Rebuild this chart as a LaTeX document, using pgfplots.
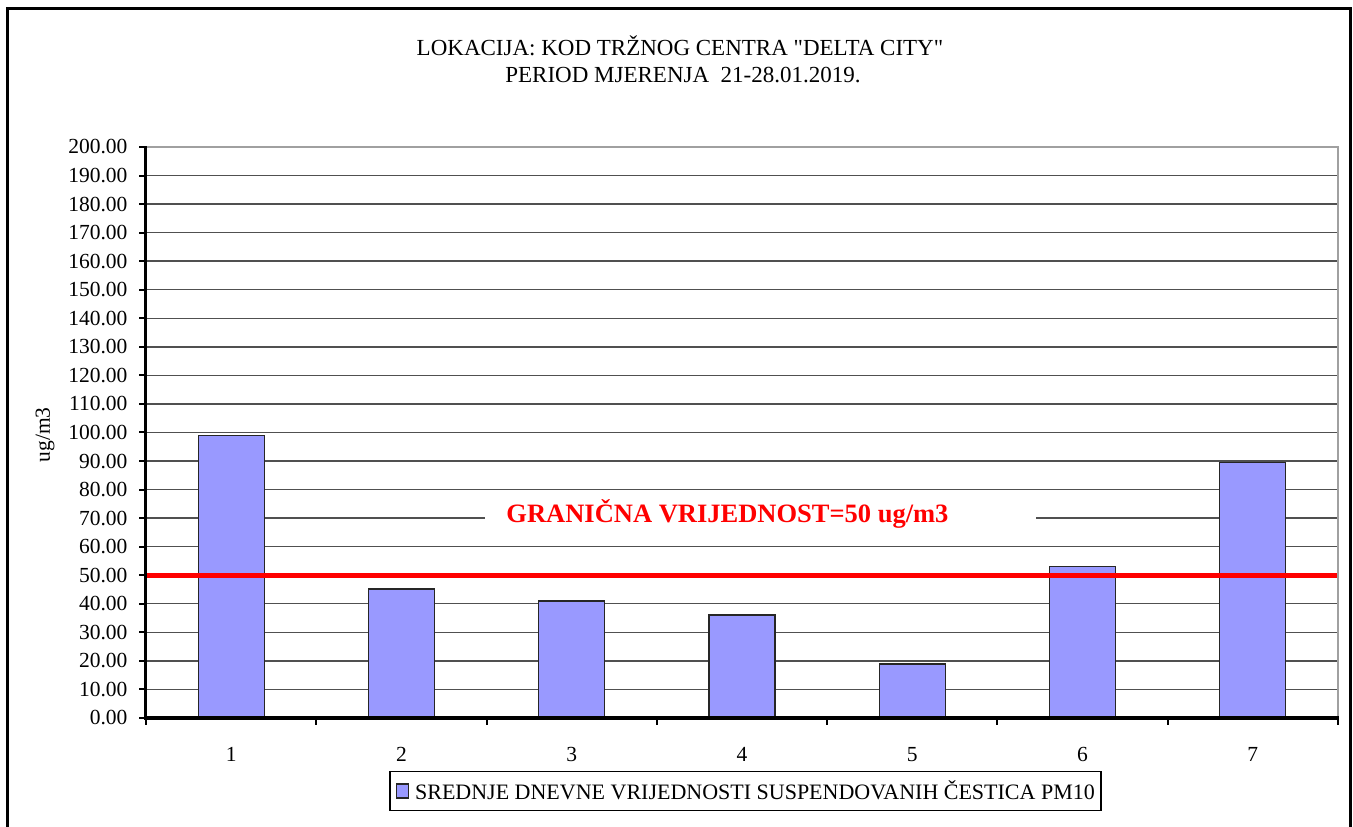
\documentclass[border=0pt]{standalone}
\usepackage{fontspec}
\setmainfont{Liberation Serif}
\newfontfamily\plainserif{Liberation Serif}
\usepackage{pgfplots}
\pgfplotsset{compat=1.18}
\definecolor{barblue}{HTML}{9999FF}
\definecolor{gridgray}{HTML}{505050}
\definecolor{bordergray}{HTML}{A0A0A0}
\begin{document}
\begin{tikzpicture}
\useasboundingbox (0pt,0pt) rectangle (1353pt,827pt);
\fill[white] (0pt,0pt) rectangle (1353pt,827pt);
\draw[line width=3pt] (7.5pt,-5pt) -- (7.5pt,818.5pt) -- (1350.5pt,818.5pt) -- (1350.5pt,-5pt);
\node[font=\plainserif\fontsize{23}{27}\selectfont] at (680pt,781pt) {LOKACIJA: KOD TRŽNOG CENTRA "DELTA CITY"};
\node[font=\plainserif\fontsize{23}{27}\selectfont] at (683pt,752pt) {PERIOD MJERENJA\ \ 21-28.01.2019.};
\node[rotate=90, font=\fontsize{21.5}{26}\selectfont] at (45pt,392pt) {ug/m3};
\begin{axis}[
  at={(146pt,109pt)}, anchor=south west,
  scale only axis, width=1192pt, height=571pt,
  xmin=0.5, xmax=7.5, ymin=0, ymax=200,
  ytick={0,10,...,200},
  xtick={0.5,1.5,...,7.5}, xticklabels={},
  extra x ticks={1,2,3,4,5,6,7},
  extra x tick labels={1,2,3,4,5,6,7},
  extra x tick style={tick style={draw=none}, grid=none},
  xtick pos=bottom, ytick pos=left,
  tick align=outside, major tick length=7pt,
  tick style={black, line width=2pt},
  axis line style={draw=none},
  ymajorgrids, grid style={gridgray, line width=1.4pt},
  /pgf/number format/assume math mode=true,
  yticklabel style={/pgf/number format/fixed, /pgf/number format/fixed zerofill, /pgf/number format/precision=2, xshift=-8pt},
  ticklabel style={font=\fontsize{21.5}{26}\selectfont},
  xticklabel style={yshift=-19pt},
  legend style={at={(0.5029,-0.1278)}, anchor=center, draw=black, line width=1.2pt,
    font=\fontsize{22}{26}\selectfont, inner xsep=4pt, inner ysep=7pt,
    nodes={inner xsep=2pt}},
  clip=false,
]
\addlegendimage{legend image code/.code={\path (-2pt,0pt) (16pt,0pt);\draw[fill=barblue,draw=black!85,line width=1.2pt] (0pt,-7pt) rectangle (12pt,7pt);}}
\addlegendentry{SREDNJE DNEVNE VRIJEDNOSTI SUSPENDOVANIH ČESTICA PM10}
\addplot[ybar, bar width=66pt, fill=barblue, draw=black!85, line width=1.2pt, forget plot]
  coordinates {(1,99.0) (2,45.2) (3,41.0) (4,36.1) (5,18.9) (6,53.0) (7,89.6)};
\addplot[red, line width=5pt, forget plot] coordinates {(0.5,50) (7.5,50)};
\fill[white] (axis cs:2.488,66) rectangle (axis cs:5.729,77);
\node[inner sep=0pt, text=red,
  font=\bfseries\fontsize{26.5}{30}\selectfont] at (axis cs:3.915,71.5) {GRANIČNA VRIJEDNOST=50 ug/m3};
\end{axis}
\draw[bordergray, line width=2pt] (147pt,680pt) -- (1338pt,680pt) -- (1338pt,109pt);
\draw[black, line width=3pt] (145.5pt,109pt) -- (145.5pt,681pt);
\draw[black, line width=3.5pt] (144pt,109pt) -- (1339pt,109pt);
\end{tikzpicture}
\end{document}
